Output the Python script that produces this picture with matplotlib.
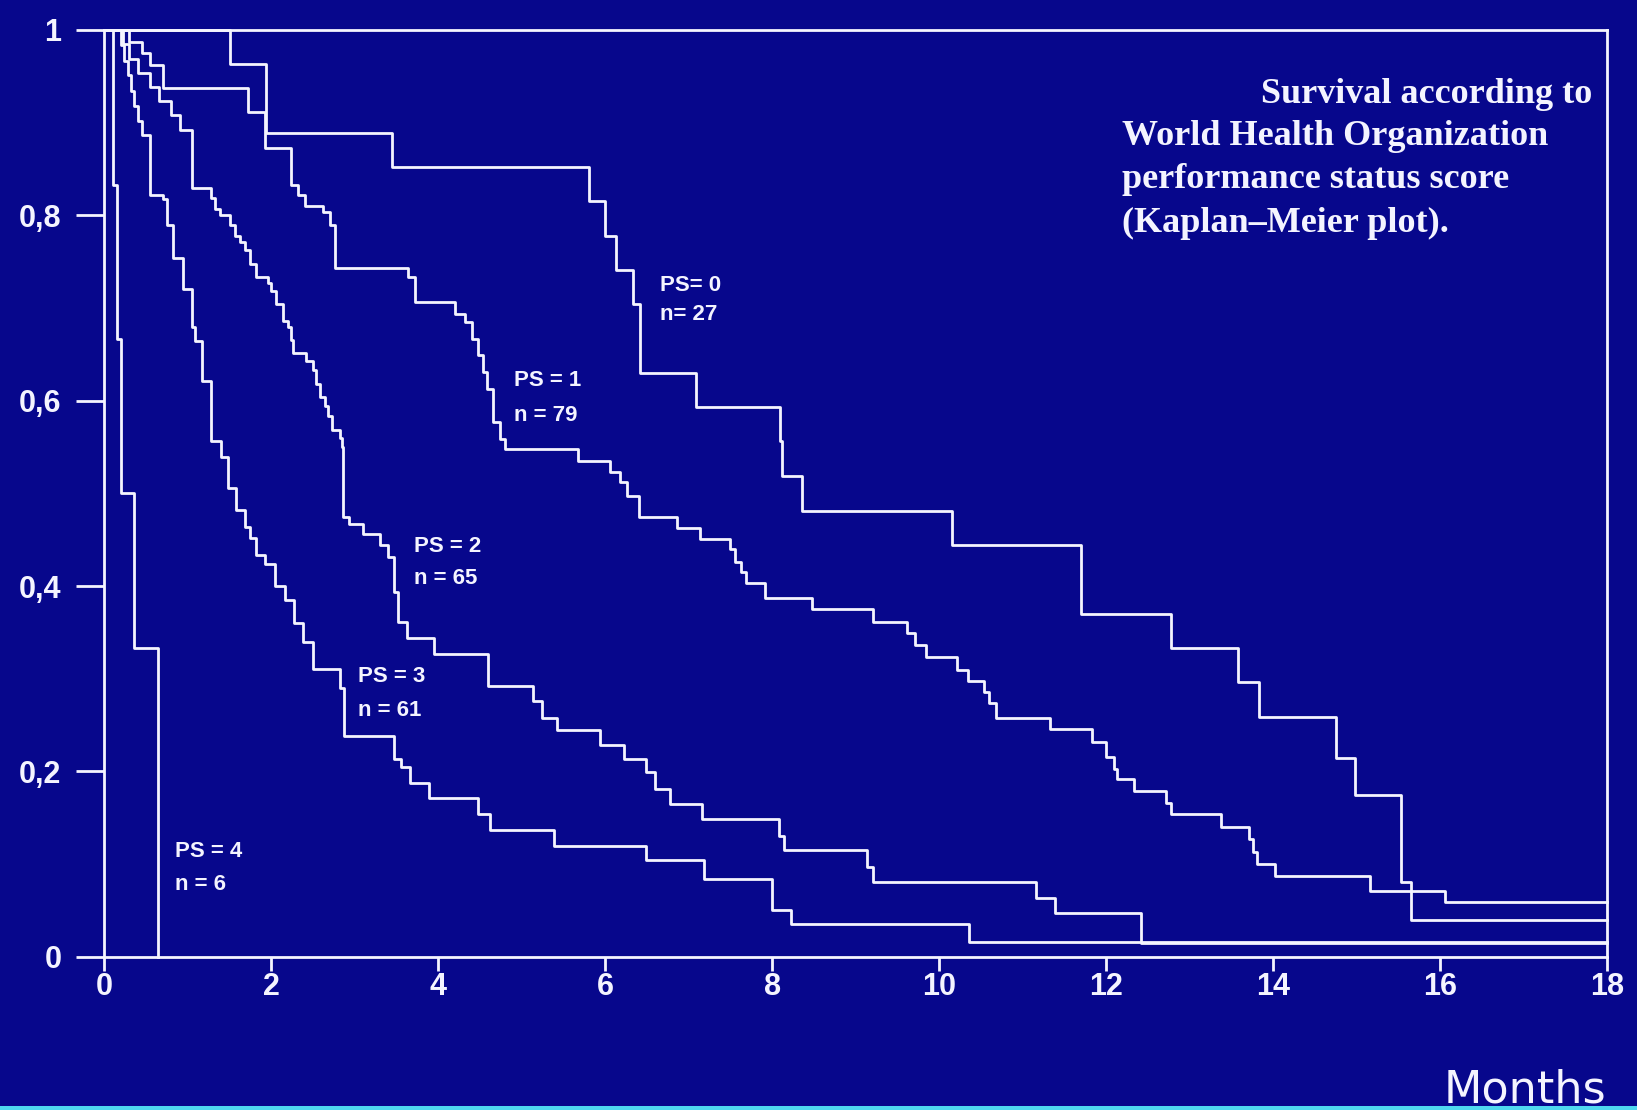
import matplotlib
matplotlib.use("Agg")
import matplotlib.pyplot as plt
from matplotlib.patches import Rectangle

# Kaplan-Meier steps: time of each drop (months) and survival after it
t0 = [1.50, 1.94, 3.44, 5.80, 6.00, 6.13, 6.33, 6.42, 7.09, 8.09, 8.12, 8.35, 10.15,
      11.70, 12.78, 13.58, 13.83, 14.75, 14.98, 15.53, 15.65]
s0 = [0.963, 0.889, 0.852, 0.815, 0.778, 0.741, 0.704, 0.630, 0.593, 0.556, 0.519, 0.481, 0.444,
      0.370, 0.333, 0.296, 0.259, 0.215, 0.175, 0.081, 0.040]

t1 = [0.30, 0.45, 0.55, 0.70, 1.72, 1.92, 2.24, 2.32, 2.40, 2.62, 2.70, 2.76, 3.64, 3.72,
      4.20, 4.32, 4.40, 4.48, 4.54, 4.58, 4.66, 4.74, 4.80, 5.67, 6.06, 6.18, 6.26, 6.40,
      6.86, 7.13, 7.49, 7.55, 7.62, 7.68, 7.91, 8.47, 9.20, 9.61, 9.71, 9.84, 10.21, 10.34,
      10.53, 10.59, 10.68, 11.33, 11.83, 12.00, 12.09, 12.13, 12.33, 12.71, 12.77, 13.38,
      13.71, 13.76, 13.81, 14.02, 15.16, 16.06]
s1 = [0.987, 0.975, 0.962, 0.937, 0.911, 0.873, 0.833, 0.822, 0.810, 0.804, 0.790, 0.743, 0.733, 0.706,
      0.694, 0.685, 0.667, 0.649, 0.631, 0.613, 0.577, 0.559, 0.548, 0.535, 0.523, 0.512, 0.497, 0.475,
      0.463, 0.451, 0.440, 0.426, 0.415, 0.403, 0.387, 0.375, 0.361, 0.349, 0.336, 0.324, 0.309, 0.298,
      0.286, 0.274, 0.258, 0.246, 0.232, 0.216, 0.203, 0.192, 0.179, 0.166, 0.154, 0.140,
      0.127, 0.113, 0.100, 0.087, 0.071, 0.059]

t2 = [0.22, 0.30, 0.40, 0.55, 0.65, 0.80, 0.90, 1.05, 1.28, 1.32, 1.38, 1.50, 1.56, 1.62,
      1.68, 1.74, 1.82, 1.96, 2.00, 2.06, 2.14, 2.20, 2.24, 2.26, 2.42, 2.50, 2.54, 2.58,
      2.64, 2.68, 2.72, 2.82, 2.84, 2.86, 2.93, 3.10, 3.30, 3.40, 3.47, 3.52, 3.63, 3.95,
      4.60, 5.13, 5.24, 5.42, 5.94, 6.22, 6.49, 6.60, 6.78, 7.16, 8.08, 8.14, 9.13, 9.21,
      11.16, 11.39, 12.42]
s2 = [0.985, 0.969, 0.954, 0.938, 0.923, 0.908, 0.892, 0.830, 0.819, 0.807, 0.800, 0.790, 0.778, 0.771,
      0.763, 0.747, 0.733, 0.727, 0.718, 0.704, 0.686, 0.679, 0.665, 0.651, 0.643, 0.633, 0.618, 0.604,
      0.594, 0.583, 0.568, 0.560, 0.550, 0.474, 0.467, 0.456, 0.444, 0.431, 0.394, 0.361, 0.344, 0.327,
      0.292, 0.276, 0.258, 0.245, 0.229, 0.213, 0.199, 0.181, 0.165, 0.149, 0.130, 0.115, 0.097, 0.081,
      0.064, 0.047, 0.015]

t3 = [0.20, 0.24, 0.28, 0.32, 0.36, 0.40, 0.45, 0.55, 0.70, 0.75, 0.82, 0.94, 1.05, 1.09,
      1.17, 1.28, 1.40, 1.48, 1.58, 1.68, 1.74, 1.82, 1.92, 2.04, 2.16, 2.27, 2.38, 2.50,
      2.82, 2.87, 3.47, 3.55, 3.66, 3.89, 4.48, 4.62, 5.38, 6.49, 7.18, 7.99, 8.22, 10.36]
s3 = [0.984, 0.967, 0.951, 0.934, 0.918, 0.902, 0.887, 0.822, 0.818, 0.790, 0.754, 0.721, 0.679, 0.664,
      0.621, 0.556, 0.539, 0.506, 0.482, 0.464, 0.452, 0.434, 0.424, 0.400, 0.385, 0.360, 0.340, 0.310,
      0.290, 0.238, 0.213, 0.205, 0.187, 0.171, 0.154, 0.137, 0.120, 0.104, 0.084, 0.050, 0.035, 0.016]

t4 = [0.10, 0.15, 0.20, 0.36, 0.64]
s4 = [0.833, 0.667, 0.500, 0.333, 0.000]

ps_labels = ["PS= 0", "PS = 1", "PS = 2", "PS = 3", "PS = 4"]
n_labels = ["n= 27", "n = 79", "n = 65", "n = 61", "n = 6"]

x_ticks = [0, 2, 4, 6, 8, 10, 12, 14, 16, 18]
y_ticks = [0, 0.2, 0.4, 0.6, 0.8, 1]
y_ticklabels = ["0", "0,2", "0,4", "0,6", "0,8", "1"]

title_lines = ["Survival according to", "World Health Organization",
               "performance status score", "(Kaplan\u2013Meier plot)."]

bg = "#07078c"
fg = "#f4f4ff"


def km_steps(times, surv, t_end):
    xs = [0.0] + list(times)
    ys = [1.0] + list(surv)
    if t_end is not None:
        xs.append(t_end)
        ys.append(ys[-1])
    return xs, ys


fig = plt.figure(figsize=(16.37, 11.10), dpi=100, facecolor=bg)
ax = fig.add_axes([0.0638, 0.138, 0.918, 0.835])
ax.set_facecolor(bg)

curves = [(t0, s0, 18.0), (t1, s1, 18.0), (t2, s2, 18.0), (t3, s3, 18.0), (t4, s4, None)]
for t, s, end in curves:
    xs, ys = km_steps(t, s, end)
    ax.step(xs, ys, where="post", color=fg, lw=2.0, clip_on=False, zorder=3)

ax.set_xlim(0, 18)
ax.set_ylim(0, 1)
for side in ["left", "bottom", "top", "right"]:
    ax.spines[side].set_color(fg)
    ax.spines[side].set_linewidth(2.0)

ax.set_xticks(x_ticks)
ax.set_xticklabels([str(v) for v in x_ticks])
ax.set_yticks(y_ticks)
ax.set_yticklabels(y_ticklabels)
ax.tick_params(axis="y", direction="out", length=20, width=2, color=fg, pad=11,
               labelcolor=fg, labelsize=22)
ax.tick_params(axis="x", direction="out", length=10, width=2, color=fg, pad=1,
               labelcolor=fg, labelsize=22)
for lab in ax.get_xticklabels() + ax.get_yticklabels():
    lab.set_family("Liberation Sans")
    lab.set_fontweight("bold")

# group labels next to the curves
label_pos = [(6.66, 0.724, 0.693), (4.90, 0.622, 0.584), (3.71, 0.443, 0.408),
             (3.04, 0.302, 0.266), (0.85, 0.114, 0.078)]
for (x, y1, y2), ps, n in zip(label_pos, ps_labels, n_labels):
    ax.text(x, y1, ps, color=fg, fontsize=16, fontweight="bold", family="Liberation Sans",
            ha="left", va="center")
    ax.text(x, y2, n, color=fg, fontsize=16, fontweight="bold", family="Liberation Sans",
            ha="left", va="center")

# caption in the upper right
fig.text(0.9725, 0.915, title_lines[0], color=fg, fontsize=26, fontweight="bold",
         family="Liberation Serif", ha="right", va="center")
for i, line in enumerate(title_lines[1:]):
    fig.text(0.6854, 0.877 - i * 0.0390, line, color=fg, fontsize=26, fontweight="bold",
             family="Liberation Serif", ha="left", va="center")

fig.text(0.981, 0.018, "Months", color=fg, fontsize=32, family="DejaVu Sans",
         ha="right", va="center")

# thin cyan edge along the bottom of the slide
fig.patches.append(Rectangle((0, 0), 1, 4 / 1110, transform=fig.transFigure,
                             facecolor="#4fd8f0", edgecolor="none"))

fig.savefig("out.png", dpi=100, facecolor=bg)
